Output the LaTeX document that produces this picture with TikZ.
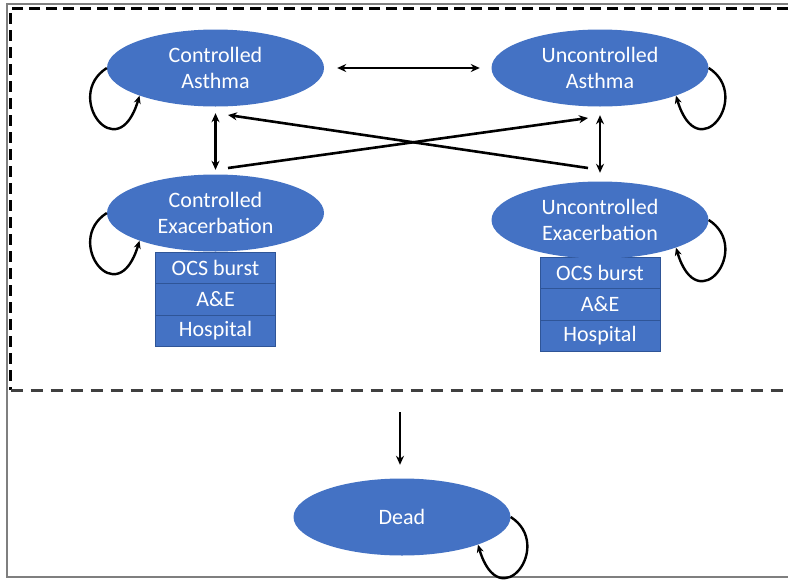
\documentclass[tikz,border=0pt]{standalone}
\usepackage{fontspec}
\setmainfont{Carlito}
\usetikzlibrary{shapes.geometric,arrows.meta,calc}
\definecolor{nodeblue}{HTML}{4472C4}
\definecolor{boxline}{HTML}{2F5597}
\definecolor{framegray}{HTML}{7F7F7F}
\definecolor{dashgray}{HTML}{404040}
\begin{document}
\begin{tikzpicture}[x=1pt,y=-1pt,
  state/.style={ellipse, fill=nodeblue, minimum width=217pt, minimum height=77pt, inner sep=0pt, align=center, text=white, font=\fontsize{22}{26}\selectfont},
  subbox/.style={rectangle, fill=nodeblue, draw=boxline, line width=0.7pt, minimum width=120pt, minimum height=31.5pt, inner sep=0pt, text=white, font=\fontsize{22}{26}\selectfont},
  tr/.style={line width=2.6pt, -{Stealth[length=9pt,width=8pt]}},
  dbl/.style={line width=2.6pt, {Stealth[length=9pt,width=8pt]}-{Stealth[length=9pt,width=8pt]}},
  loopy/.style={line width=2.4pt, -{Stealth[length=8pt,width=7pt]}},
  frameline/.style={framegray, line width=1.5pt},
  blackdash/.style={black, line width=3pt, dash pattern=on 11pt off 6pt},
  graydash/.style={dashgray, line width=3pt, dash pattern=on 12pt off 8pt}
]
\useasboundingbox (0,0) rectangle (788,579);
\fill[white] (0,0) rectangle (788,579);

% frame
\draw[frameline] (788,4) -- (7,4) -- (7,577) -- (788,577);
\draw[blackdash] (788,8.5) -- (10.5,8.5) -- (10.5,390);
\draw[graydash] (10.5,390) -- (788,390);

% sub-boxes
\node[subbox] (cb1) at (215.5,267.75) {OCS burst};
\node[subbox] (cb2) at (215.5,299.25) {A\&E};
\node[subbox] (cb3) at (215.5,330.75) {Hospital};
\node[subbox] (ub1) at (600,272.75) {OCS burst};
\node[subbox] (ub2) at (600,304.25) {A\&E};
\node[subbox] (ub3) at (600,335.75) {Hospital};

% states
\node[state] (ca) at (215.5,68) {Controlled\\Asthma};
\node[state] (ua) at (600,68) {Uncontrolled\\Asthma};
\node[state] (ce) at (215.5,213) {Controlled\\Exacerbation};
\node[state] (ue) at (600,220) {Uncontrolled\\Exacerbation};
\node[state] (dead) at (402,517) {Dead};

% transitions
\draw[dbl, shorten <=13pt, shorten >=11.5pt] (ca) -- (ua);
\draw[dbl, shorten <=6.5pt, shorten >=4.5pt] (ca) -- (ce);
\draw[dbl, shorten <=8.5pt, shorten >=8.5pt] (ua) -- (ue);

\coordinate (xa) at (228,168);
\coordinate (xb) at (588,118);
\coordinate (xc) at (588,168);
\coordinate (xd) at (228,115);
\draw[tr] (xa) -- (xb);
\draw[tr] (xc) -- (xd);

\coordinate (dtop) at (400,412);
\draw[tr, shorten >=13.5pt] (dtop) -- (dtop |- dead.north);

% self loops
\draw[loopy] (ca.west) .. controls ($(ca.west)+(-44,28)$) and ($(ca.200)+(-22,74)$) .. (ca.200);
\draw[loopy] (ce.west) .. controls ($(ce.west)+(-44,28)$) and ($(ce.200)+(-22,74)$) .. (ce.200);
\draw[loopy] (ua.east) .. controls ($(ua.east)+(44,28)$) and ($(ua.340)+(22,74)$) .. (ua.340);
\draw[loopy] (ue.east) .. controls ($(ue.east)+(44,28)$) and ($(ue.340)+(22,74)$) .. (ue.340);
\draw[loopy] (dead.east) .. controls ($(dead.east)+(44,28)$) and ($(dead.340)+(22,74)$) .. (dead.340);
\end{tikzpicture}
\end{document}
